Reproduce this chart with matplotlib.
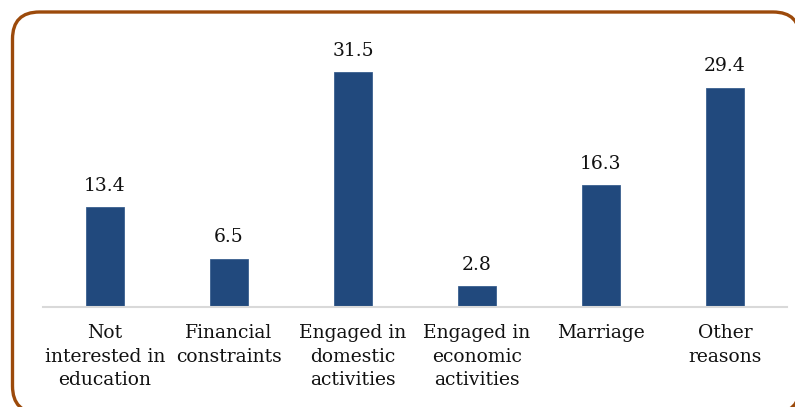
import matplotlib
matplotlib.use("Agg")
import matplotlib.pyplot as plt
from matplotlib.patches import FancyBboxPatch

categories = ["Not\ninterested in\neducation", "Financial\nconstraints",
              "Engaged in\ndomestic\nactivities", "Engaged in\neconomic\nactivities",
              "Marriage", "Other\nreasons"]
values = [13.4, 6.5, 31.5, 2.8, 16.3, 29.4]
value_labels = ["13.4", "6.5", "31.5", "2.8", "16.3", "29.4"]

FONT = "DejaVu Serif"
W, H = 795, 407
fig = plt.figure(figsize=(W / 100, H / 100), dpi=100)
fig.patch.set_facecolor("white")

# rounded border in inches; right and bottom edges run off the canvas.
# A (practically invisible) face avoids Agg's line clipping distorting the curves.
box = FancyBboxPatch((0.125, -0.06), 8.0 - 0.125, 3.95 + 0.06,
                     boxstyle="round,pad=0,rounding_size=0.27",
                     transform=fig.dpi_scale_trans, facecolor=(1, 1, 1, 0.002),
                     edgecolor="#9C4A0B", linewidth=2.4, clip_on=False, zorder=-1)
fig.patches.append(box)

ax = fig.add_axes([43 / W, 1 - 307 / H, (787 - 43) / W, (307 - 46) / H])
x = list(range(len(values)))
ax.bar(x, values, width=0.31, color="#21497D", edgecolor="#3A5F8F", linewidth=0.6)
ax.set_xlim(-0.5, len(values) - 0.5)
ax.set_ylim(0, 35)
for xi, v, lab in zip(x, values, value_labels):
    ax.annotate(lab, (xi, v), xytext=(0, 9), textcoords="offset points",
                ha="center", va="bottom", fontsize=13.5, family=FONT, color="#111111")

ax.set_xticks(x)
ax.set_xticklabels(categories, fontsize=13.5, family=FONT, color="#111111", linespacing=1.42)
ax.tick_params(axis="x", length=0, pad=12)
ax.set_yticks([])
for s in ["top", "left", "right"]:
    ax.spines[s].set_visible(False)
ax.spines["bottom"].set_color("#D9D9D9")
ax.spines["bottom"].set_linewidth(1.5)
ax.patch.set_alpha(0)

fig.savefig("out.png", dpi=100)
